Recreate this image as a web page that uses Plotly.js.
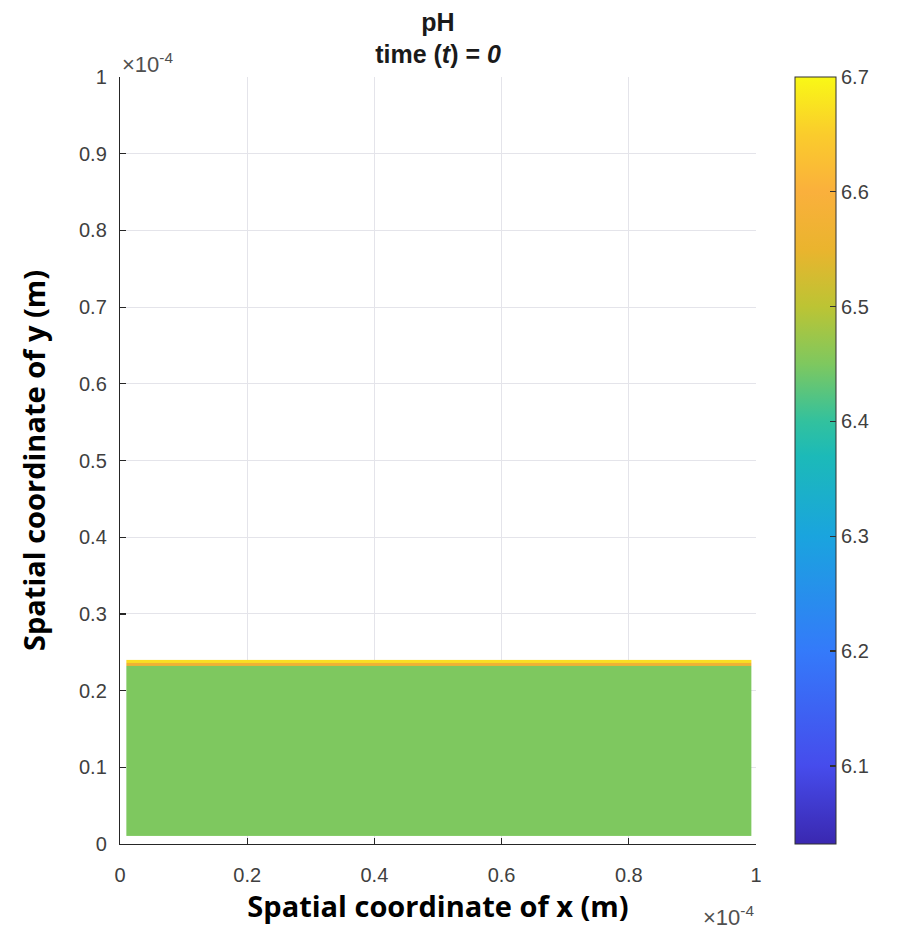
<!DOCTYPE html>
<html>
<head>
<meta charset="utf-8">
<script src="https://cdn.plot.ly/plotly-3.0.1.min.js"></script>
<style>
  html, body { margin: 0; padding: 0; background: #ffffff; }
  #chart { width: 904px; height: 939px; }
</style>
</head>
<body>
<div id="chart"></div>
<script>
// ---- data ----
// cell edges of the pcolor-like field (metres)
const xEdges = [1e-6, 99.2e-6];
const yEdges = [1e-6, 23.2e-6, 23.6e-6, 24.0e-6];
// pH value of each row of cells (bottom to top)
const pHRows = [6.45, 6.57, 6.67];
// colour limits of the colour bar
const cLimits = [6.032, 6.7];
// axis ticks (values in metres, labels in units of 1e-4 m)
const xTickVals = [0, 0.2e-4, 0.4e-4, 0.6e-4, 0.8e-4, 1e-4];
const xTickText = ["0", "0.2", "0.4", "0.6", "0.8", "1"];
const yTickVals = [0, 0.1e-4, 0.2e-4, 0.3e-4, 0.4e-4, 0.5e-4, 0.6e-4, 0.7e-4, 0.8e-4, 0.9e-4, 1e-4];
const yTickText = ["0", "0.1", "0.2", "0.3", "0.4", "0.5", "0.6", "0.7", "0.8", "0.9", "1"];
const cTickVals = [6.1, 6.2, 6.3, 6.4, 6.5, 6.6, 6.7];
// parula-like colour map sampled from the reference colour bar (pH -> colour)
const cmapPH = [6.032, 6.10, 6.20, 6.30, 6.37, 6.40, 6.45, 6.50, 6.55, 6.60, 6.65, 6.70];
const cmapColors = ["rgb(58,40,176)", "rgb(70,76,236)", "rgb(52,122,250)", "rgb(26,164,222)",
  "rgb(28,186,184)", "rgb(50,193,158)", "rgb(126,200,95)", "rgb(188,196,52)",
  "rgb(234,180,46)", "rgb(250,176,60)", "rgb(250,204,44)", "rgb(249,248,22)"];

// ---- build ----
const colorscale = cmapPH.map((v, i) => [(v - cLimits[0]) / (cLimits[1] - cLimits[0]), cmapColors[i]]);
const z = pHRows.map(v => [v]);

const tickFont = { family: "Liberation Sans, Arial, sans-serif", size: 20, color: "#404040" };
const labelFont = { family: "Open Sans, Noto Sans, sans-serif", size: 29, color: "#000000", weight: "bold" };
const expFont = { family: "Liberation Sans, Arial, sans-serif", size: 22, color: "#505050" };

const trace = {
  type: "heatmap",
  x: xEdges,
  y: yEdges,
  z: z,
  zmin: cLimits[0],
  zmax: cLimits[1],
  colorscale: colorscale,
  hoverinfo: "skip",
  colorbar: {
    x: 1.0613,
    xanchor: "left",
    xref: "paper",
    y: 0.5,
    yanchor: "middle",
    len: 1.0,
    lenmode: "fraction",
    thickness: 41,
    thicknessmode: "pixels",
    outlinewidth: 1,
    outlinecolor: "#303030",
    ticks: "inside",
    ticklen: 6,
    tickwidth: 1.2,
    tickcolor: "#303030",
    tickvals: cTickVals,
    ticktext: cTickVals.map(v => v.toFixed(1)),
    tickfont: tickFont,
    xpad: 0,
    ypad: 0
  }
};

const layout = {
  width: 904,
  height: 939,
  margin: { l: 120, r: 148, t: 77, b: 95 },
  paper_bgcolor: "#ffffff",
  plot_bgcolor: "#ffffff",
  showlegend: false,
  title: {
    text: "<b>pH</b><br><b>time (<i>t</i>) = <i>0</i></b>",
    font: { family: "Liberation Sans, Arial, sans-serif", size: 25, color: "#1a1a1a" },
    x: 0.5,
    xref: "paper",
    xanchor: "center",
    y: 0.967,
    yref: "container",
    yanchor: "top"
  },
  xaxis: {
    range: [0, 1e-4],
    tickvals: xTickVals,
    ticktext: xTickText,
    tickfont: tickFont,
    ticks: "inside",
    ticklen: 6,
    tickwidth: 1.2,
    tickcolor: "#262626",
    ticklabelstandoff: 13,
    showline: true,
    linecolor: "#262626",
    linewidth: 1.2,
    showgrid: true,
    gridcolor: "#e4e4ea",
    gridwidth: 1,
    zeroline: false,
    mirror: false,
    title: { text: "Spatial coordinate of x (m)", font: labelFont, standoff: 2 },
    automargin: false,
    fixedrange: true
  },
  yaxis: {
    range: [0, 1e-4],
    tickvals: yTickVals,
    ticktext: yTickText,
    tickfont: tickFont,
    ticks: "inside",
    ticklen: 6,
    tickwidth: 1.2,
    tickcolor: "#262626",
    ticklabelstandoff: 8,
    showline: true,
    linecolor: "#262626",
    linewidth: 1.2,
    showgrid: true,
    gridcolor: "#e4e4ea",
    gridwidth: 1,
    zeroline: false,
    mirror: false,
    title: { text: "Spatial coordinate of y (m)", font: labelFont, standoff: 24 },
    automargin: false,
    fixedrange: true
  },
  annotations: [
    {
      xref: "paper", yref: "paper", x: 0, y: 1.0183,
      xanchor: "left", yanchor: "middle",
      text: "×10<sup>-4</sup>", showarrow: false,
      font: expFont
    },
    {
      xref: "paper", yref: "paper", x: 1.0, y: -0.0945,
      xanchor: "right", yanchor: "middle",
      text: "×10<sup>-4</sup>", showarrow: false,
      font: expFont
    }
  ]
};

Plotly.newPlot("chart", [trace], layout, { displayModeBar: false, staticPlot: true });
</script>
</body>
</html>
